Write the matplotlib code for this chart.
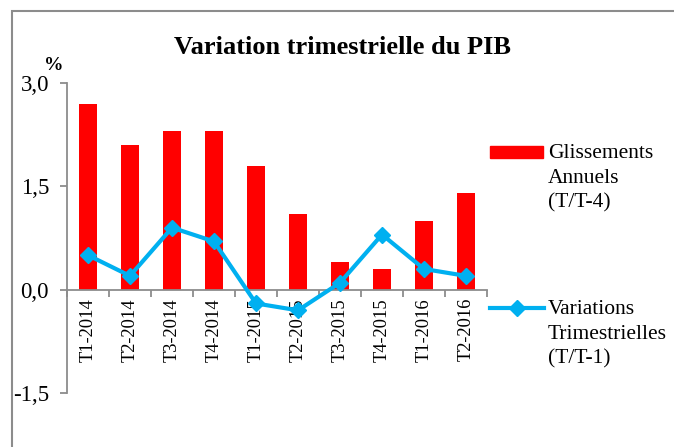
import matplotlib
matplotlib.use("Agg")
import matplotlib.pyplot as plt
from matplotlib.lines import Line2D
from matplotlib.patches import Rectangle

# ── Data ──────────────────────────────────────────────────────────────
trimestres = ["T1-2014", "T2-2014", "T3-2014", "T4-2014", "T1-2015",
              "T2-2015", "T3-2015", "T4-2015", "T1-2016", "T2-2016"]
glissements = [2.7, 2.1, 2.3, 2.3, 1.8, 1.1, 0.4, 0.3, 1.0, 1.4]
variations = [0.5, 0.2, 0.9, 0.7, -0.2, -0.3, 0.1, 0.8, 0.3, 0.2]
yticks = [-1.5, 0.0, 1.5, 3.0]
ytick_labels = ["-1,5", "0,0", "1,5", "3,0"]

RED = "#FF0000"
BLUE = "#00B0F0"
GREY = "#8C8C8C"

plt.rcParams["font.family"] = ["Liberation Serif", "DejaVu Serif"]

W, H = 674, 447
fig = plt.figure(figsize=(W / 100, H / 100), dpi=100)
fig.patch.set_facecolor("white")

def fx(px):
    return px / W

def fy(py):
    return 1 - py / H

ax = fig.add_axes([fx(67), fy(393), fx(487) - fx(67), fy(83) - fy(393)])
x = list(range(len(trimestres)))

ax.bar(x, glissements, width=0.43, color=RED, zorder=2)
ax.plot(x, variations, color=BLUE, lw=3, marker="D", ms=8.5, zorder=3)

ax.set_xlim(-0.5, len(trimestres) - 0.5)
ax.set_ylim(-1.5, 3.0)

# ── Axes styling ──────────────────────────────────────────────────────
for side in ("top", "right"):
    ax.spines[side].set_visible(False)
ax.spines["left"].set_color(GREY)
ax.spines["left"].set_linewidth(1.3)
ax.spines["bottom"].set_position(("data", 0))
ax.spines["bottom"].set_color(GREY)
ax.spines["bottom"].set_linewidth(1.3)

ax.set_yticks(yticks)
ax.set_yticklabels(ytick_labels)
ax.tick_params(axis="y", direction="out", length=5, width=1.3, color=GREY,
               labelsize=16.5, pad=8)

ax.set_xticks(x)
ax.set_xticklabels(trimestres, rotation=90, va="top", ha="center")
ax.tick_params(axis="x", which="major", length=0, labelsize=13.3, pad=6)
ax.set_xticks([i - 0.5 for i in range(len(trimestres) + 1)], minor=True)
ax.tick_params(axis="x", which="minor", direction="out", length=5,
               width=1.3, color=GREY)

# ── Title, unit ───────────────────────────────────────────────────────
fig.text(fx(343), fy(47), "Variation trimestrielle du PIB", ha="center",
         va="center", fontsize=19, fontweight="bold")
fig.text(fx(54), fy(66), "%", ha="center", va="center", fontsize=14,
         fontweight="bold")

# ── Legend (drawn by hand so handles sit on the first line) ───────────
fig.add_artist(Rectangle((fx(490), fy(158)), fx(53), fy(146) - fy(158),
                         transform=fig.transFigure, color=RED))
fig.text(fx(548), fy(144), "Glissements\nAnnuels\n(T/T-4)", ha="left",
         va="top", fontsize=15.5, linespacing=1.4)
fig.add_artist(Line2D([fx(490), fx(544)], [fy(308), fy(308)],
                      transform=fig.transFigure, color=BLUE, lw=3))
fig.add_artist(Line2D([fx(517)], [fy(308)], transform=fig.transFigure,
                      color=BLUE, marker="D", ms=8.5))
fig.text(fx(548), fy(300), "Variations\nTrimestrielles\n(T/T-1)", ha="left",
         va="top", fontsize=15.5, linespacing=1.4)

# ── Outer frame (cropped at right and bottom) ─────────────────────────
fig.add_artist(Rectangle((fx(12), fy(460)), fx(700) - fx(12), fy(11) - fy(460),
                         transform=fig.transFigure, fill=False,
                         edgecolor=GREY, lw=1.5))

fig.savefig("out.png", dpi=100)
